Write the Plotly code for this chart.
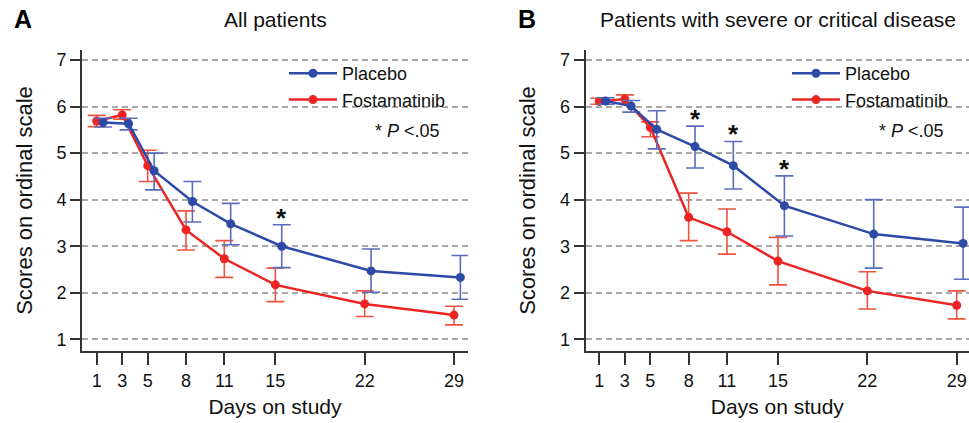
import plotly.graph_objects as go

# ---------------- data ----------------
days = [1, 3, 5, 8, 11, 15, 22, 29]
tick_labels = ["1", "3", "5", "8", "11", "15", "22", "29"]
y_ticks = [1, 2, 3, 4, 5, 6, 7]

# Panel A: all patients
placebo_A = [5.66, 5.63, 4.62, 3.96, 3.48, 3.00, 2.47, 2.33]
placebo_A_hi = [5.75, 5.75, 5.00, 4.39, 3.92, 3.46, 2.94, 2.80]
placebo_A_lo = [5.56, 5.50, 4.21, 3.52, 3.03, 2.54, 2.01, 1.86]
fosta_A = [5.69, 5.82, 4.73, 3.35, 2.73, 2.17, 1.76, 1.52]
fosta_A_hi = [5.81, 5.93, 5.06, 3.76, 3.12, 2.53, 2.04, 1.71]
fosta_A_lo = [5.57, 5.73, 4.39, 2.92, 2.33, 1.81, 1.49, 1.31]
sig_days_A = [15]

# Panel B: severe or critical disease
placebo_B = [6.12, 6.01, 5.51, 5.14, 4.73, 3.87, 3.26, 3.06]
placebo_B_hi = [6.19, 6.13, 5.91, 5.58, 5.25, 4.51, 4.00, 3.84]
placebo_B_lo = [6.05, 5.88, 5.09, 4.68, 4.23, 3.22, 2.53, 2.29]
fosta_B = [6.11, 6.16, 5.55, 3.62, 3.31, 2.68, 2.04, 1.73]
fosta_B_hi = [6.18, 6.25, 5.67, 4.14, 3.80, 3.19, 2.45, 2.04]
fosta_B_lo = [6.05, 6.07, 5.35, 3.12, 2.83, 2.17, 1.65, 1.44]
sig_days_B = [8, 11, 15]

series_names = ["Placebo", "Fostamatinib"]
panel_titles = ["All patients", "Patients with severe or critical disease"]
panel_letters = ["A", "B"]
x_title = "Days on study"
y_title = "Scores on ordinal scale"
p_note = "* <i>P</i> &lt;.05"

# ---------------- style ----------------
FONT = "Liberation Sans, Arial, Helvetica, sans-serif"
BLUE = "#2d4aa6"
BLUE_ERR = "#5a6cbd"
RED = "#ec2424"
RED_ERR = "#f0533e"
AXIS = "#333333"
GRID = "#a8a8a8"
DODGE = 0.5  # horizontal offset of placebo points (days)

W, H = 969, 423


def px_x(p):
    return p / W


def px_y(p):
    return 1 - p / H


fig = go.Figure()

panels = [
    dict(pl=placebo_A, plh=placebo_A_hi, pll=placebo_A_lo,
         fo=fosta_A, foh=fosta_A_hi, fol=fosta_A_lo, sig=sig_days_A,
         xa="x", ya="y", legend="legend"),
    dict(pl=placebo_B, plh=placebo_B_hi, pll=placebo_B_lo,
         fo=fosta_B, foh=fosta_B_hi, fol=fosta_B_lo, sig=sig_days_B,
         xa="x2", ya="y2", legend="legend2"),
]

for p in panels:
    fig.add_trace(go.Scatter(
        x=days, y=p["fo"], name=series_names[1], mode="lines+markers",
        line=dict(color=RED, width=2.5), marker=dict(color=RED, size=9),
        error_y=dict(type="data", symmetric=False,
                     array=[h - v for h, v in zip(p["foh"], p["fo"])],
                     arrayminus=[v - l for v, l in zip(p["fo"], p["fol"])],
                     color=RED_ERR, thickness=1.6, width=9),
        xaxis=p["xa"], yaxis=p["ya"], legend=p["legend"], legendrank=2,
    ))
    fig.add_trace(go.Scatter(
        x=[d + DODGE for d in days], y=p["pl"], name=series_names[0],
        mode="lines+markers",
        line=dict(color=BLUE, width=2.5), marker=dict(color=BLUE, size=9),
        error_y=dict(type="data", symmetric=False,
                     array=[h - v for h, v in zip(p["plh"], p["pl"])],
                     arrayminus=[v - l for v, l in zip(p["pl"], p["pll"])],
                     color=BLUE_ERR, thickness=1.6, width=9),
        xaxis=p["xa"], yaxis=p["ya"], legend=p["legend"], legendrank=1,
    ))
    for d in p["sig"]:
        i = days.index(d)
        fig.add_annotation(
            x=d + DODGE, y=p["plh"][i], xref=p["xa"], yref=p["ya"],
            text="<b>*</b>", showarrow=False, yanchor="bottom",
            yshift=-10, font=dict(family=FONT, size=26, color="#111"))

axis_common = dict(
    showline=True, linecolor=AXIS, linewidth=2, ticks="outside",
    tickcolor=AXIS, tickwidth=2, mirror=False, zeroline=False,
    tickfont=dict(family=FONT, size=18, color="#111"),
)

x_dom_A = [px_x(82), px_x(468)]
x_dom_B = [px_x(585.7), 1.0]
y_dom = [px_y(351), px_y(50)]

xaxis_kw = dict(axis_common, tickvals=days, ticktext=tick_labels, ticklen=12,
                showgrid=False,
                title=dict(text=x_title, font=dict(family=FONT, size=21, color="#111"),
                           standoff=10))
yaxis_kw = dict(axis_common, tickvals=y_ticks, ticklen=10, showgrid=True,
                gridcolor=GRID, griddash="6px,4px", gridwidth=1.5,
                range=[0.749, 7.215],
                title=dict(text=y_title, font=dict(family=FONT, size=22, color="#111"),
                           standoff=18))

legend_common = dict(xanchor="left", yanchor="top", bgcolor="rgba(0,0,0,0)",
                     font=dict(family=FONT, size=18, color="#111"),
                     tracegroupgap=0, itemwidth=48)

fig.update_layout(
    width=W, height=H,
    margin=dict(l=0, r=0, t=0, b=0),
    paper_bgcolor="white", plot_bgcolor="white",
    font=dict(family=FONT, color="#111"),
    xaxis=dict(xaxis_kw, domain=x_dom_A, range=[-0.152, 30.097], anchor="y"),
    yaxis=dict(yaxis_kw, domain=y_dom, anchor="x"),
    xaxis2=dict(xaxis_kw, domain=x_dom_B, range=[-0.066, 29.964], anchor="y2"),
    yaxis2=dict(yaxis_kw, domain=y_dom, anchor="x2"),
    legend=dict(legend_common, x=px_x(284), y=px_y(55)),
    legend2=dict(legend_common, x=px_x(787), y=px_y(55)),
    showlegend=True,
)

letter_x = [12, 516]
title_x = [275.5, 778]
note_x = [373, 877]
for k in range(2):
    fig.add_annotation(x=px_x(letter_x[k]), y=px_y(19), xref="paper", yref="paper",
                       text="<b>%s</b>" % panel_letters[k], showarrow=False,
                       xanchor="left", yanchor="middle",
                       font=dict(family=FONT, size=25, color="#000"))
    fig.add_annotation(x=px_x(title_x[k]), y=px_y(20), xref="paper", yref="paper",
                       text=panel_titles[k], showarrow=False,
                       xanchor="center", yanchor="middle",
                       font=dict(family=FONT, size=21, color="#111"))
    fig.add_annotation(x=px_x(note_x[k]), y=px_y(131), xref="paper", yref="paper",
                       text=p_note, showarrow=False,
                       xanchor="left", yanchor="middle",
                       font=dict(family=FONT, size=18, color="#111"))

fig.write_html("out.html", config={"displayModeBar": False},
               post_script="document.body.style.margin='0px';")
